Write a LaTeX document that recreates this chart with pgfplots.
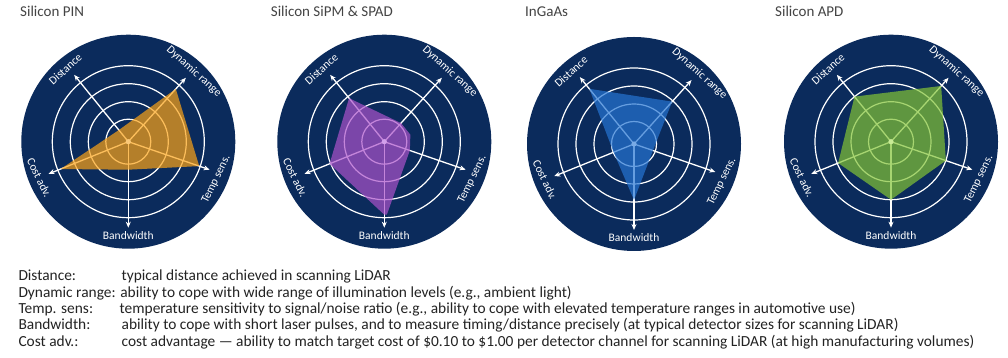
\documentclass[border=0pt]{standalone}
\usepackage{fontspec}
\setmainfont{Carlito}
\usepackage{pgfplots}
\pgfplotsset{compat=1.18}
\usepgfplotslibrary{polar}
\usetikzlibrary{arrows.meta}
\definecolor{navy}{RGB}{11,43,92}
\definecolor{pinC}{RGB}{252,163,22}
\definecolor{pinL}{RGB}{250,200,120}
\definecolor{sipmC}{RGB}{171,82,203}
\definecolor{sipmL}{RGB}{210,160,235}
\definecolor{ingC}{RGB}{38,117,211}
\definecolor{ingL}{RGB}{120,170,230}
\definecolor{apdC}{RGB}{131,196,53}
\definecolor{apdL}{RGB}{200,235,150}
\definecolor{txt}{RGB}{35,35,35}
\pgfplotsset{radar/.style={x=1pt,y=1pt,xmin=-110,xmax=110,ymin=-110,ymax=110,hide axis,clip=false,anchor=center}}
\newcommand{\radarbase}{%
  \fill[navy] (axis cs:0,0) circle[radius=107pt];
  \draw[white, line width=1.2pt] (axis cs:0,0) circle[radius=22.5pt];
  \draw[white, line width=1.2pt] (axis cs:0,0) circle[radius=40pt];
  \draw[white, line width=1.2pt] (axis cs:0,0) circle[radius=58pt];
  \draw[white, line width=1.2pt] (axis cs:0,0) circle[radius=76pt];
  \addplot[white, line width=1.3pt, -{Stealth[length=6pt,width=5pt]}, data cs=polar] coordinates {(0,0) (129,86)};
  \addplot[white, line width=1.3pt, -{Stealth[length=6pt,width=5pt]}, data cs=polar] coordinates {(0,0) (48,86)};
  \addplot[white, line width=1.3pt, -{Stealth[length=6pt,width=5pt]}, data cs=polar] coordinates {(0,0) (-19,86)};
  \addplot[white, line width=1.3pt, -{Stealth[length=6pt,width=5pt]}, data cs=polar] coordinates {(0,0) (-90,86)};
  \addplot[white, line width=1.3pt, -{Stealth[length=6pt,width=5pt]}, data cs=polar] coordinates {(0,0) (202,86)};
}
\newcommand{\radarlabels}{%
  \node[text=white, font=\fontsize{11.5}{12}\selectfont, rotate=42] at (axis cs:-63,72.5) {Distance};
  \node[text=white, font=\fontsize{11.5}{12}\selectfont, rotate=-42] at (axis cs:65.5,70.2) {Dynamic range};
  \node[text=white, font=\fontsize{11.5}{12}\selectfont, rotate=64] at (axis cs:88,-37.5) {Temp sens.};
  \node[text=white, font=\fontsize{11.5}{12}\selectfont, rotate=-64] at (axis cs:-89,-36) {Cost adv.};
  \node[text=white, font=\fontsize{11.5}{12}\selectfont] at (axis cs:0,-94) {Bandwidth};
}
\begin{document}
\begin{tikzpicture}
\path[use as bounding box] (0,0) rectangle (1008pt,358pt);
\fill[white] (0,0) rectangle (1008pt,358pt);
% titles
\node[anchor=base west, inner sep=0, text=txt!85, font=\fontsize{15}{17}\selectfont] at (20pt,341.5pt) {Silicon PIN};
\node[anchor=base west, inner sep=0, text=txt!85, font=\fontsize{15}{17}\selectfont] at (270.7pt,341.5pt) {Silicon SiPM \& SPAD};
\node[anchor=base west, inner sep=0, text=txt!85, font=\fontsize{15}{17}\selectfont] at (525pt,341.5pt) {InGaAs};
\node[anchor=base west, inner sep=0, text=txt!85, font=\fontsize{15}{17}\selectfont] at (775pt,341.5pt) {Silicon APD};

% Silicon PIN
\begin{axis}[radar, at={(128.3pt,216.3pt)}]
\radarbase
\addplot[draw=none, fill=pinC, fill opacity=0.7, data cs=polar] coordinates {(129,15) (48,71) (-19,75) (-90,28) (202,73) (129,15)};
\fill[pinL] (axis cs:0,0) circle[radius=2.6pt];
\radarlabels
\end{axis}

% Silicon SiPM & SPAD
\begin{axis}[radar, at={(384.3pt,216.3pt)}]
\radarbase
\addplot[draw=none, fill=sipmC, fill opacity=0.7, data cs=polar] coordinates {(129,56) (48,25) (15,27) (-19,27) (-88,73) (-90,73) (202,59) (129,56)};
\fill[sipmL] (axis cs:0,0) circle[radius=2.6pt];
\radarlabels
\end{axis}

% InGaAs
\begin{axis}[radar, at={(634pt,214pt)}]
\radarbase
\addplot[draw=none, fill=ingC, fill opacity=0.7, data cs=polar] coordinates {(129,71) (48,57) (-19,20) (-90,56) (202,22) (129,71)};
\fill[ingL] (axis cs:0,0) circle[radius=2.6pt];
\radarlabels
\end{axis}

% Silicon APD
\begin{axis}[radar, at={(891pt,216.3pt)}]
\radarbase
\addplot[draw=none, fill=apdC, fill opacity=0.7, data cs=polar] coordinates {(129,58) (48,75) (-19,58) (-90,58) (202,57) (129,58)};
\fill[apdL] (axis cs:0,0) circle[radius=2.6pt];
\radarlabels
\end{axis}

% legend text
\begin{scope}[every node/.style={anchor=base west, inner sep=0, text=txt, font=\fontsize{15.4}{17}\selectfont}]
\node at (18.3pt,77.3pt) {Distance:};
\node at (121.5pt,77.3pt) {typical distance achieved in scanning LiDAR};
\node at (18.3pt,60.9pt) {Dynamic range: ability to cope with wide range of illumination levels (e.g., ambient light)};
\node at (18.3pt,44.5pt) {Temp. sens:};
\node at (119.5pt,44.5pt) {temperature sensitivity to signal/noise ratio (e.g., ability to cope with elevated temperature ranges in automotive use)};
\node at (18.3pt,28.1pt) {Bandwidth:};
\node at (121.5pt,28.1pt) {ability to cope with short laser pulses, and to measure timing/distance precisely (at typical detector sizes for scanning LiDAR)};
\node at (18.3pt,11.7pt) {Cost adv.:};
\node at (121.5pt,11.7pt) {cost advantage — ability to match target cost of \$0.10 to \$1.00 per detector channel for scanning LiDAR (at high manufacturing volumes)};
\end{scope}
\end{tikzpicture}
\end{document}
